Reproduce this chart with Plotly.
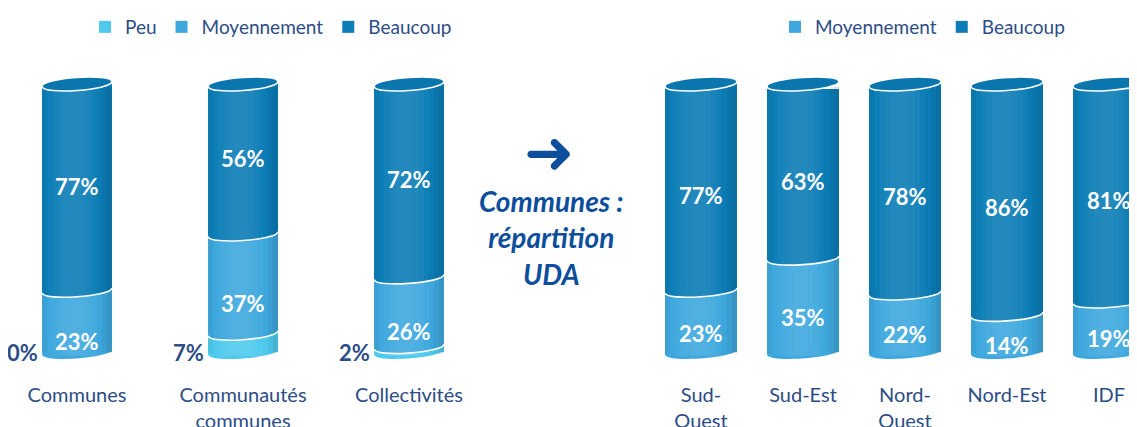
import plotly.graph_objects as go

# ---------------- data ----------------
left_categories = ["Communes", "Communautés<br>communes", "Collectivités"]
left_peu = [0, 7, 2]
left_moyen = [23, 37, 26]
left_beaucoup = [77, 56, 72]

right_categories = ["Sud-<br>Ouest", "Sud-Est", "Nord-<br>Ouest", "Nord-Est", "IDF"]
right_moyen = [23, 35, 22, 14, 19]
right_beaucoup = [77, 63, 78, 86, 81]

series_names = ["Peu", "Moyennement", "Beaucoup"]
middle_title = "Communes :<br>répartition<br>UDA"

# ---------------- style ----------------
COL = {"Peu": "#4fcaee", "Moyennement": "#3ea8de", "Beaucoup": "#0c7db6"}
TOP_FILL = "#0b76ad"
TXT = "#2c4d86"
MID = "#0d4e9c"
FONT = "Lato"
W_LEFT, W_RIGHT = 0.42, 0.706
R = 2.4            # ellipse vertical radius (value units)
T = 1.8            # perspective tilt of ellipses (value units)
Y_RANGE = [-7.46, 128.36]
FW, FH = 1137, 427
MB = 63
PH = FH - MB       # plot-area height (paper coords span it)
N_STRIPS = 14      # shading strips per cylinder

fig = go.Figure()
shapes = []
annotations = []


def shade(t):
    """signed overlay opacity across the cylinder width (t in [-0.5, 0.5])"""
    return 0.10 - 0.8 * (t + 0.05) ** 2


def add_group(cats, series, width, xref, yref, legend, top_shift, bottom_shift):
    xs = list(range(len(cats)))
    for name, vals in series:
        fig.add_trace(go.Bar(
            x=xs, y=vals, name=name, width=width,
            marker=dict(color=COL[name], line=dict(width=0)),
            xaxis=xref, yaxis=yref, legend=legend,
            hoverinfo="skip",
        ))
    k = 4.0 / 3.0 * R
    h = T / 2
    for i in range(len(cats)):
        c = xs[i]
        xl, xr = c - width / 2, c + width / 2
        segs = [(nm, v[i]) for nm, v in series]
        nonzero = [(nm, v) for nm, v in segs if v > 0]
        # bottom half ellipse
        shapes.append(dict(type="path", xref=xref, yref=yref,
                           path=(f"M{xl},{-h} C{xl},{-h - k} {xr},{h - k} {xr},{h} "
                                 f"L{xr},2 L{xl},2 Z"),
                           fillcolor=COL[nonzero[0][0]], line=dict(width=0), layer="above"))
        # lens at boundaries (upper colour)
        cum = 0
        bounds = []
        for j, (nm, v) in enumerate(segs):
            cum += v
            if v > 0 and cum < 100:
                up = [s for s in segs[j + 1:] if s[1] > 0]
                if up:
                    b = cum
                    shapes.append(dict(type="path", xref=xref, yref=yref,
                                       path=(f"M{xl},{b - h} C{xl},{b - h - k} {xr},{b + h - k} {xr},{b + h} "
                                             f"L{xr},{b + 1} L{xl},{b + 1} Z"),
                                       fillcolor=COL[up[0][0]], line=dict(width=0), layer="above"))
                    bounds.append(b)
        # smooth cylinder shading
        for s in range(N_STRIPS):
            a = -0.5 + s / N_STRIPS
            bb = a + 1 / N_STRIPS
            tm = (a + bb) / 2
            p = shade(tm)
            edge = abs(tm) > 0.38
            y0 = -0.2 * R if edge else -0.6 * R
            shapes.append(dict(type="rect", xref=xref, yref=yref,
                               x0=c + a * width, x1=c + bb * width, y0=y0, y1=100 - h,
                               fillcolor="white" if p > 0 else "black", opacity=min(abs(p), 0.2),
                               line=dict(width=0), layer="above"))
        for b in bounds:
            shapes.append(dict(type="path", xref=xref, yref=yref,
                               path=f"M{xl},{b - h} C{xl},{b - h - k} {xr},{b + h - k} {xr},{b + h}",
                               line=dict(color="white", width=1.6), layer="above"))
        # top ellipse (tilted)
        yl, yr = 100 - h, 100 + h
        shapes.append(dict(type="path", xref=xref, yref=yref,
                           path=(f"M{xl},{yl} C{xl},{yl + k} {xr},{yr + k} {xr},{yr} "
                                 f"C{xr},{yr - k} {xl},{yl - k} {xl},{yl} Z"),
                           fillcolor=TOP_FILL, line=dict(color="white", width=1.6), layer="above"))
        # value labels
        cum = 0
        for nm, v in segs:
            if nm == "Peu":
                annotations.append(dict(xref=xref, yref=yref, x=xl, y=0, xanchor="right",
                                        yanchor="middle", xshift=-2, showarrow=False,
                                        text=f"<b>{v}%</b>",
                                        font=dict(family=FONT, size=22, color=TXT)))
            elif v > 0:
                ys = bottom_shift if nm == "Moyennement" else top_shift
                annotations.append(dict(xref=xref, yref=yref, x=c, y=cum + v / 2, yshift=ys,
                                        showarrow=False, text=f"<b>{v}%</b>",
                                        font=dict(family=FONT, size=22, color="white")))
            cum += v


add_group(left_categories,
          [("Peu", left_peu), ("Moyennement", left_moyen), ("Beaucoup", left_beaucoup)],
          W_LEFT, "x", "y", "legend", 1, -20)
add_group(right_categories,
          [("Moyennement", right_moyen), ("Beaucoup", right_beaucoup)],
          W_RIGHT, "x2", "y2", "legend2", -8, -12)

# arrow + middle title (paper coords span the plot area only)
annotations.append(dict(xref="paper", yref="paper", x=541 / FW, y=1 - 144 / PH,
                        yanchor="middle", text="➜", showarrow=False,
                        font=dict(family="DejaVu Sans", size=60, color=MID)))
annotations.append(dict(xref="paper", yref="paper", x=543 / FW, y=1 - 229 / PH,
                        yanchor="middle", text=f"<b><i>{middle_title}</i></b>", showarrow=False,
                        font=dict(family=FONT, size=28, color=MID)))

axis_common = dict(showgrid=False, zeroline=False, showline=False, ticks="",
                   tickfont=dict(family=FONT, size=20, color=TXT), ticklabelstandoff=9,
                   fixedrange=True)
legend_common = dict(orientation="h", y=1 - 19 / PH, xanchor="left", yanchor="middle",
                     traceorder="normal", font=dict(family=FONT, size=19, color=TXT),
                     bgcolor="rgba(0,0,0,0)")
fig.update_layout(
    width=FW, height=FH,
    margin=dict(l=0, r=0, t=0, b=MB),
    paper_bgcolor="white", plot_bgcolor="white",
    barmode="stack", bargap=0,
    xaxis=dict(domain=[0, 484 / FW], range=[-0.4157, 2.5],
               tickvals=list(range(len(left_categories))), ticktext=left_categories, **axis_common),
    xaxis2=dict(domain=[632 / FW, 1], range=[-0.598, 4.353], anchor="y2",
                tickvals=list(range(len(right_categories))), ticktext=right_categories, **axis_common),
    yaxis=dict(range=Y_RANGE, visible=False, anchor="x"),
    yaxis2=dict(range=Y_RANGE, visible=False, anchor="x2"),
    legend=dict(x=77 / FW, **legend_common),
    legend2=dict(x=767 / FW, **legend_common),
    shapes=shapes,
    annotations=annotations,
    showlegend=True,
)

fig.write_html("out.html")
